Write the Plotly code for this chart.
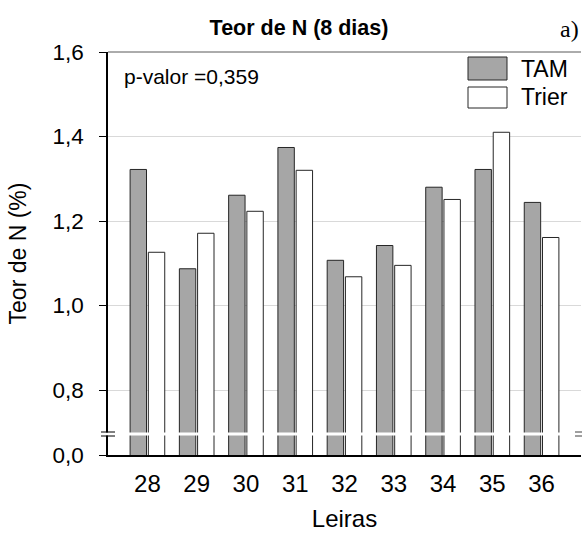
import plotly.graph_objects as go

# ---- data ----
leiras = ["28", "29", "30", "31", "32", "33", "34", "35", "36"]
tam = [1.322, 1.087, 1.261, 1.374, 1.107, 1.142, 1.280, 1.322, 1.244]
trier = [1.126, 1.171, 1.223, 1.320, 1.068, 1.095, 1.251, 1.410, 1.161]
series_names = ["TAM", "Trier"]
ytick_vals = [0.6462, 0.8, 1.0, 1.2, 1.4, 1.6]
ytick_text = ["0,0", "0,8", "1,0", "1,2", "1,4", "1,6"]
p_text = "p-valor =0,359"

FONT = "Liberation Sans, Arial, sans-serif"
W, H = 582, 542
L, R, T, B = 108, 1, 52, 87
PW, PH = W - L - R, H - T - B

def px(x):
    return (x - L) / PW

def py(y):
    return (H - B - y) / PH

fig = go.Figure()
fig.add_trace(go.Bar(x=leiras, y=tam, name=series_names[0],
                     marker=dict(color="#a6a6a6", line=dict(color="#262626", width=1))))
fig.add_trace(go.Bar(x=leiras, y=trier, name=series_names[1],
                     marker=dict(color="#ffffff", line=dict(color="#262626", width=1))))

shapes = []
# top frame line
shapes.append(dict(type="line", xref="paper", yref="paper", x0=0, x1=1, y0=1, y1=1,
                   line=dict(color="#595959", width=1)))
# axis break: white band across plot
shapes.append(dict(type="rect", xref="paper", yref="paper", x0=-0.02, x1=1.0,
                   y0=py(435.5), y1=py(432.5), fillcolor="white", line=dict(width=0), layer="above"))
# break marks on left axis
for yy in (432, 436):
    shapes.append(dict(type="line", xref="paper", yref="paper", x0=px(101), x1=px(115),
                       y0=py(yy), y1=py(yy), line=dict(color="#000000", width=1)))
    shapes.append(dict(type="line", xref="paper", yref="paper", x0=px(575), x1=px(582),
                       y0=py(yy), y1=py(yy), line=dict(color="#404040", width=1)))
# custom legend boxes
shapes.append(dict(type="rect", xref="paper", yref="paper", x0=px(468), x1=px(507),
                   y0=py(80), y1=py(57), fillcolor="#a6a6a6", line=dict(color="#262626", width=1)))
shapes.append(dict(type="rect", xref="paper", yref="paper", x0=px(468), x1=px(507),
                   y0=py(108), y1=py(87), fillcolor="#ffffff", line=dict(color="#262626", width=1)))

annotations = [
    dict(text=series_names[0], xref="paper", yref="paper", x=px(519), y=py(69),
         xanchor="left", yanchor="middle", showarrow=False, font=dict(family=FONT, size=23, color="black")),
    dict(text=series_names[1], xref="paper", yref="paper", x=px(519), y=py(97),
         xanchor="left", yanchor="middle", showarrow=False, font=dict(family=FONT, size=23, color="black")),
    dict(text=p_text, xref="paper", yref="paper", x=px(122), y=py(76),
         xanchor="left", yanchor="middle", showarrow=False, font=dict(family=FONT, size=21, color="black")),
    dict(text="a)", xref="paper", yref="paper", x=px(581), y=py(29),
         xanchor="right", yanchor="middle", showarrow=False,
         font=dict(family="Liberation Serif, Times New Roman, serif", size=24, color="black")),
]

fig.update_layout(
    width=W, height=H,
    margin=dict(l=L, r=R, t=T, b=B),
    paper_bgcolor="white", plot_bgcolor="white",
    barmode="group", bargap=0.26, bargroupgap=0.1,
    showlegend=False,
    title=dict(text="<b>Teor de N (8 dias)</b>", x=299 / W, xanchor="center",
               y=1 - 27 / H, yanchor="middle", font=dict(family=FONT, size=21.5, color="black")),
    font=dict(family=FONT, color="black"),
    shapes=shapes,
    annotations=annotations,
)
fig.update_xaxes(
    type="category", range=[-0.8, 8.8],
    showline=True, linecolor="black", linewidth=1.5,
    ticks="", showgrid=False, ticklabelstandoff=6,
    tickfont=dict(family=FONT, size=24, color="black"),
    title=dict(text="Leiras", font=dict(family=FONT, size=24, color="black"), standoff=15),
)
fig.update_yaxes(
    range=[ytick_vals[0], 1.6],
    tickvals=ytick_vals, ticktext=ytick_text,
    showline=True, linecolor="black", linewidth=1.5,
    ticks="outside", ticklen=7, tickcolor="black", ticklabelstandoff=11,
    showgrid=True, gridcolor="#d9d9d9", gridwidth=1,
    zeroline=False,
    tickfont=dict(family=FONT, size=22.5, color="black"),
    title=dict(text="Teor de N (%)", font=dict(family=FONT, size=23, color="black"), standoff=19),
)

fig.write_html("out.html", config={"displayModeBar": False},
               post_script="document.body.style.margin='0';document.body.style.overflow='hidden';")
